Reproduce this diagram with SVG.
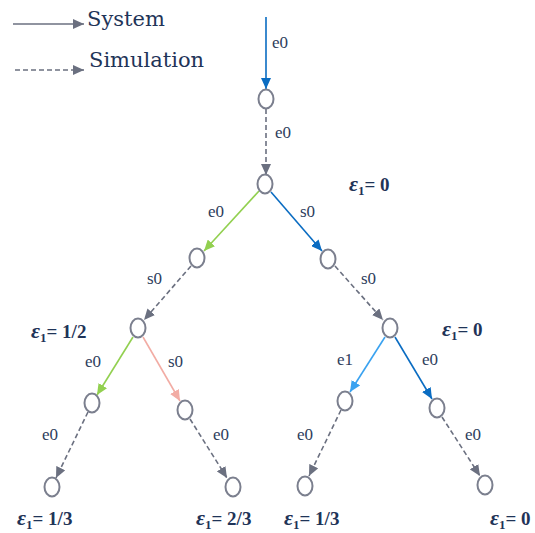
<svg xmlns="http://www.w3.org/2000/svg" width="535" height="533" viewBox="0 0 535 533">
<style>
.node{fill:#fff;stroke:#7B7F8E;stroke-width:2}
.lbl{font-family:"Liberation Serif",serif;font-size:17px;fill:#2E3D5C}
.eps{font-family:"Liberation Serif",serif;font-size:19px;font-weight:bold;fill:#1F3458}
.eg{font-style:italic;font-size:22px}
.sub{font-size:13px}
.leg{font-family:"DejaVu Serif",serif;font-size:21px;fill:#1F3458}
.e{fill:none;stroke-width:1.6}
.sim{stroke:#6B7080;stroke-dasharray:5,3}
.blue{stroke:#0A6CC2}
.green{stroke:#92D050}
.pink{stroke:#F2ACA4}
.lblue{stroke:#3AA2F0}
.sys{stroke:#6B7080}
</style>
<defs>
<marker id="mGrey" markerUnits="userSpaceOnUse" markerWidth="12" markerHeight="10" refX="11" refY="5" orient="auto"><path d="M0,0 L11,5 L0,10 z" fill="#6B7080"/></marker>
<marker id="mBlue" markerUnits="userSpaceOnUse" markerWidth="12" markerHeight="10" refX="11" refY="5" orient="auto"><path d="M0,0 L11,5 L0,10 z" fill="#0A6CC2"/></marker>
<marker id="mGreen" markerUnits="userSpaceOnUse" markerWidth="12" markerHeight="10" refX="11" refY="5" orient="auto"><path d="M0,0 L11,5 L0,10 z" fill="#92D050"/></marker>
<marker id="mPink" markerUnits="userSpaceOnUse" markerWidth="12" markerHeight="10" refX="11" refY="5" orient="auto"><path d="M0,0 L11,5 L0,10 z" fill="#F2ACA4"/></marker>
<marker id="mLBlue" markerUnits="userSpaceOnUse" markerWidth="12" markerHeight="10" refX="11" refY="5" orient="auto"><path d="M0,0 L11,5 L0,10 z" fill="#3AA2F0"/></marker>
</defs>

<g id="legend">
<line class="e sys" x1="13" y1="24" x2="84" y2="24" marker-end="url(#mGrey)"/>
<text class="leg" x="87" y="26">System</text>
<line class="e sim" x1="15" y1="70" x2="84" y2="70" marker-end="url(#mGrey)"/>
<text class="leg" x="89" y="67">Simulation</text>
</g>

<g id="connectors">
<line class="e blue" x1="266" y1="17" x2="266" y2="89" marker-end="url(#mBlue)"/>
<line class="e sim" x1="266" y1="109" x2="266" y2="175" marker-end="url(#mGrey)"/>
<line class="e green" x1="259" y1="191" x2="204" y2="251" marker-end="url(#mGreen)"/>
<line class="e blue" x1="271" y1="192" x2="322" y2="251" marker-end="url(#mBlue)"/>
<line class="e sim" x1="191" y1="266" x2="144" y2="320" marker-end="url(#mGrey)"/>
<line class="e sim" x1="335" y1="266" x2="383" y2="320" marker-end="url(#mGrey)"/>
<line class="e green" x1="133" y1="337" x2="97" y2="395" marker-end="url(#mGreen)"/>
<line class="e pink" x1="143" y1="337" x2="180" y2="401" marker-end="url(#mPink)"/>
<line class="e lblue" x1="385" y1="337" x2="350" y2="392" marker-end="url(#mLBlue)"/>
<line class="e blue" x1="395" y1="337" x2="432" y2="399" marker-end="url(#mBlue)"/>
<line class="e sim" x1="88" y1="412" x2="56" y2="478" marker-end="url(#mGrey)"/>
<line class="e sim" x1="190" y1="419" x2="227" y2="478" marker-end="url(#mGrey)"/>
<line class="e sim" x1="341" y1="410" x2="309" y2="476" marker-end="url(#mGrey)"/>
<line class="e sim" x1="442" y1="417" x2="480" y2="476" marker-end="url(#mGrey)"/>
</g>

<g id="edge-labels">
<text class="lbl" x="272" y="48">e0</text>
<text class="lbl" x="275" y="138">e0</text>
<text class="lbl" x="208" y="217">e0</text>
<text class="lbl" x="300" y="217">s0</text>
<text class="lbl" x="147" y="284">s0</text>
<text class="lbl" x="361" y="284">s0</text>
<text class="lbl" x="85" y="367">e0</text>
<text class="lbl" x="168" y="367">s0</text>
<text class="lbl" x="337" y="365">e1</text>
<text class="lbl" x="422" y="365">e0</text>
<text class="lbl" x="42" y="440">e0</text>
<text class="lbl" x="213" y="440">e0</text>
<text class="lbl" x="297" y="440">e0</text>
<text class="lbl" x="465" y="440">e0</text>
</g>

<g id="nA"><ellipse class="node" cx="266" cy="99" rx="7.5" ry="9.5"/></g>
<g id="nB"><ellipse class="node" cx="265" cy="184" rx="7.5" ry="9.5"/></g>
<g id="nC"><ellipse class="node" cx="197" cy="258" rx="7.5" ry="9.5"/></g>
<g id="nD"><ellipse class="node" cx="328" cy="259" rx="7.5" ry="9.5"/></g>
<g id="nE"><ellipse class="node" cx="138" cy="328" rx="7.5" ry="9.5"/></g>
<g id="nF"><ellipse class="node" cx="390" cy="328" rx="7.5" ry="9.5"/></g>
<g id="nG"><ellipse class="node" cx="92" cy="403" rx="7.5" ry="9.5"/></g>
<g id="nH"><ellipse class="node" cx="185" cy="410" rx="7.5" ry="9.5"/></g>
<g id="nI"><ellipse class="node" cx="345" cy="401" rx="7.5" ry="9.5"/></g>
<g id="nJ"><ellipse class="node" cx="437" cy="408" rx="7.5" ry="9.5"/></g>
<g id="nK"><ellipse class="node" cx="52" cy="487" rx="7.5" ry="9.5"/></g>
<g id="nL"><ellipse class="node" cx="233" cy="487" rx="7.5" ry="9.5"/></g>
<g id="nM"><ellipse class="node" cx="305" cy="486" rx="7.5" ry="9.5"/></g>
<g id="nN"><ellipse class="node" cx="485" cy="485" rx="7.5" ry="9.5"/></g>

<g id="eps-labels">
<text class="eps" x="349" y="191"><tspan class="eg">ε</tspan><tspan class="sub" dy="4">1</tspan><tspan dy="-4">= 0</tspan></text>
<text class="eps" x="31" y="338"><tspan class="eg">ε</tspan><tspan class="sub" dy="4">1</tspan><tspan dy="-4">= 1/2</tspan></text>
<text class="eps" x="442" y="336"><tspan class="eg">ε</tspan><tspan class="sub" dy="4">1</tspan><tspan dy="-4">= 0</tspan></text>
<text class="eps" x="17" y="525"><tspan class="eg">ε</tspan><tspan class="sub" dy="4">1</tspan><tspan dy="-4">= 1/3</tspan></text>
<text class="eps" x="196" y="525"><tspan class="eg">ε</tspan><tspan class="sub" dy="4">1</tspan><tspan dy="-4">= 2/3</tspan></text>
<text class="eps" x="284" y="525"><tspan class="eg">ε</tspan><tspan class="sub" dy="4">1</tspan><tspan dy="-4">= 1/3</tspan></text>
<text class="eps" x="490" y="525"><tspan class="eg">ε</tspan><tspan class="sub" dy="4">1</tspan><tspan dy="-4">= 0</tspan></text>
</g>
</svg>
